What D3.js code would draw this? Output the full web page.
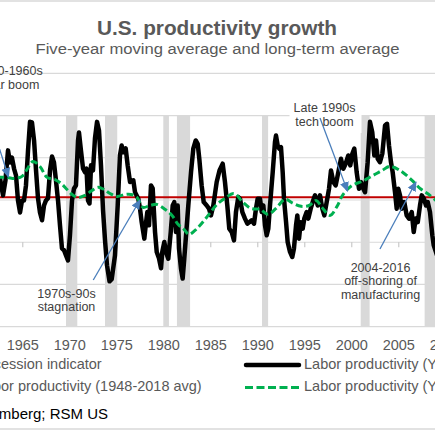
<!DOCTYPE html>
<html><head><meta charset="utf-8">
<script src="https://cdn.jsdelivr.net/npm/d3@7"></script>
<style>
html,body{margin:0;padding:0;background:#fff;}
svg{display:block;overflow:hidden;}
text{font-family:"Liberation Sans",Arial,sans-serif;}
</style></head>
<body>
<svg id="chart" width="435" height="435"></svg>
<script>
// ---------- data ----------
const title = "U.S. productivity growth";
const subtitle = "Five-year moving average and long-term average";
const tickYears = [1960,1965,1970,1975,1980,1985,1990,1995,2000,2005,2010];
const gridValues = [-4,-2,0,2,4,6,8];
const longTermAvg = 2.13;
const recessions = [[1969.65,1970.85],[1973.8,1975.1],[1980.0,1980.6],[1981.45,1982.85],[1990.5,1991.15],[2001.0,2001.95],[2007.8,2009.5]];
const laborYoY = [[1962.63,3.02],[1962.95,2.22],[1963.21,2.93],[1963.48,4.35],[1963.69,3.78],[1963.90,4.01],[1964.12,3.49],[1964.33,3.16],[1964.54,1.98],[1964.76,1.41],[1964.97,1.98],[1965.18,1.98],[1965.39,2.69],[1965.61,4.35],[1965.82,5.7],[1966.03,5.67],[1966.25,4.82],[1966.46,3.40],[1966.67,2.08],[1966.88,1.41],[1967.10,1.04],[1967.31,1.74],[1967.52,1.98],[1967.73,2.08],[1967.95,3.40],[1968.16,4.06],[1968.37,3.78],[1968.58,2.93],[1968.80,1.98],[1969.01,0.80],[1969.22,-0.29],[1969.44,-0.38],[1969.65,-0.62],[1969.86,-0.86],[1970.07,0.33],[1970.29,1.98],[1970.50,2.55],[1970.71,2.69],[1970.93,4.82],[1971.03,5.20],[1971.24,4.35],[1971.46,3.49],[1971.67,3.31],[1971.83,3.49],[1971.99,1.98],[1972.15,1.84],[1972.31,3.64],[1972.52,3.40],[1972.73,4.91],[1972.95,5.7],[1973.16,5.29],[1973.37,3.64],[1973.59,1.51],[1973.80,0.09],[1974.01,-1.09],[1974.28,-1.85],[1974.51,-1.75],[1974.86,-0.62],[1975.15,1.74],[1975.39,4.11],[1975.57,4.58],[1975.74,4.26],[1976.00,4.44],[1976.21,3.64],[1976.46,2.85],[1976.81,2.93],[1976.99,2.37],[1977.34,2.06],[1977.52,1.60],[1977.70,0.95],[1977.98,0.17],[1978.13,0.80],[1978.30,1.43],[1978.48,0.80],[1978.69,2.69],[1978.87,2.55],[1979.12,0.48],[1979.30,-0.46],[1979.54,-0.76],[1979.76,-1.23],[1979.89,-0.46],[1980.11,0.01],[1980.29,-0.46],[1980.53,-0.78],[1980.79,0.48],[1981.00,1.74],[1981.17,1.90],[1981.35,0.48],[1981.53,1.74],[1981.67,-0.30],[1981.88,-1.25],[1982.06,-1.72],[1982.23,-0.78],[1982.42,0.33],[1982.66,1.74],[1982.95,3.32],[1983.19,4.43],[1983.45,4.82],[1983.66,4.66],[1983.83,3.95],[1984.08,2.69],[1984.30,1.90],[1984.62,1.74],[1984.86,1.59],[1985.07,1.27],[1985.32,1.74],[1985.68,2.85],[1985.98,3.40],[1986.32,3.72],[1986.56,2.85],[1986.81,1.74],[1987.02,0.64],[1987.28,0.48],[1987.52,0.09],[1987.73,1.43],[1987.98,2.14],[1988.16,2.06],[1988.41,1.43],[1988.69,1.12],[1988.94,0.88],[1989.15,0.95],[1989.40,1.04],[1989.65,0.88],[1989.86,1.59],[1990.04,2.06],[1990.29,2.06],[1990.47,1.43],[1990.64,1.74],[1990.82,0.80],[1991.00,0.33],[1991.17,0.64],[1991.35,1.74],[1991.64,3.32],[1991.88,4.74],[1991.99,5.05],[1992.17,4.58],[1992.34,4.43],[1992.52,4.50],[1992.70,3.32],[1992.84,2.06],[1993.06,0.95],[1993.23,0.01],[1993.48,-0.46],[1993.72,-0.70],[1993.90,-0.30],[1994.12,0.80],[1994.26,1.27],[1994.44,0.17],[1994.62,0.95],[1994.83,0.64],[1995.00,1.12],[1995.25,1.43],[1995.43,1.12],[1995.68,1.59],[1995.89,1.90],[1996.14,2.22],[1996.43,1.74],[1996.67,2.22],[1996.92,1.59],[1997.13,1.27],[1997.38,1.90],[1997.63,2.53],[1997.84,3.40],[1998.09,2.85],[1998.34,2.69],[1998.62,3.32],[1998.90,3.95],[1999.15,3.48],[1999.40,3.72],[1999.68,4.11],[1999.89,3.64],[2000.11,4.19],[2000.32,4.43],[2000.57,3.32],[2000.82,2.53],[2001.03,2.85],[2001.28,2.53],[2001.46,2.37],[2001.74,3.79],[2001.99,5.7],[2002.23,5.21],[2002.45,4.11],[2002.63,4.82],[2002.81,3.95],[2003.05,3.79],[2003.30,4.19],[2003.59,5.53],[2003.80,5.61],[2004.01,4.58],[2004.22,3.79],[2004.40,3.32],[2004.65,2.37],[2004.83,1.59],[2005.00,2.53],[2005.18,2.22],[2005.36,1.59],[2005.64,1.90],[2005.89,1.27],[2006.14,1.12],[2006.43,1.43],[2006.64,0.48],[2006.85,1.12],[2007.07,0.95],[2007.31,1.74],[2007.49,2.22],[2007.73,2.06],[2007.95,1.74],[2008.13,1.90],[2008.37,1.43],[2008.62,0.33],[2008.77,-0.15],[2009.12,-0.62]];
const labor5yr = [[1962.3,3.07],[1963.37,3.07],[1964.22,3.02],[1964.97,3.12],[1965.50,3.45],[1966.14,3.82],[1966.88,3.59],[1967.63,3.07],[1968.48,2.97],[1969.12,2.79],[1969.76,2.50],[1970.29,2.26],[1970.93,2.12],[1971.67,2.22],[1972.41,2.45],[1973.05,2.60],[1973.69,2.50],[1974.33,2.31],[1975.07,2.17],[1975.93,2.26],[1976.56,2.26],[1977.20,2.12],[1977.84,1.65],[1978.58,1.74],[1979.33,1.79],[1980.18,1.56],[1980.93,1.27],[1981.57,0.85],[1982.20,0.61],[1982.73,0.37],[1983.37,0.56],[1983.91,0.80],[1984.44,1.08],[1985.18,1.51],[1985.71,1.79],[1986.56,2.08],[1987.52,2.31],[1988.48,1.89],[1989.33,1.60],[1990.29,1.56],[1991.14,1.32],[1991.99,1.60],[1992.95,2.03],[1993.80,1.84],[1994.65,1.70],[1995.50,1.74],[1996.25,1.98],[1996.88,1.65],[1997.73,1.27],[1998.48,1.70],[1999.12,2.26],[2000.07,2.69],[2001.14,2.88],[2002.31,3.16],[2003.27,3.40],[2004.12,3.59],[2005.18,3.40],[2006.46,2.93],[2007.31,2.55],[2008.37,2.22],[2009.12,1.93]];
const annotations = [
  {lines:["1970s-90s","stagnation"], year:1969.7, value:-2.62, from:[1972.55,-1.79], to:[1977.52,2.0]},
  {lines:["Late 1990s","tech boom"], year:1997.15, value:6.15, from:[1996.67,5.88], to:[1999.6,2.42], box:true},
  {lines:["2004-2016","off-shoring of","manufacturing"], year:2003.11, value:-1.39, from:[2003.05,-0.32], to:[2006.88,2.85]}
];
const earlyLabel = ["1950-1960s","Postwar boom"];
const earlyArrow = {from:[1961.3,6.2], to:[1963.53,3.09]};
const legendLeft = ["Recession indicator","Labor productivity (1948-2018 avg)"];
const legendRight = ["Labor productivity (Y/Y)","Labor productivity (Y/Y, 5-yr avg)"];
const source = "Source: Bloomberg; RSM US";

// ---------- drawing ----------
const svg = d3.select("#chart");
const W = 435;
const x = d3.scaleLinear().domain([1965,2005]).range([22.3,398.3]);
const y = d3.scaleLinear().domain([-4,8]).range([326.7,73.3]);
const grey = "#595959", gridC = "#d9d9d9", arrowC = "#4a7ebb";

svg.append("line").attr("x1",0).attr("x2",W).attr("y1",1).attr("y2",1).attr("stroke",gridC).attr("stroke-width",1.5);
svg.append("line").attr("x1",0).attr("x2",W).attr("y1",429).attr("y2",429).attr("stroke",gridC).attr("stroke-width",1.5);

svg.append("text").attr("x",217).attr("y",34.5).attr("text-anchor","middle")
  .attr("font-size",19.5).attr("font-weight","bold").attr("fill",grey)
  .attr("textLength",240).attr("lengthAdjust","spacingAndGlyphs").text(title);
svg.append("text").attr("x",217.5).attr("y",54).attr("text-anchor","middle")
  .attr("font-size",15.5).attr("fill",grey)
  .attr("textLength",364).attr("lengthAdjust","spacingAndGlyphs").text(subtitle);

svg.append("g").selectAll("line").data(gridValues).join("line")
  .attr("x1",0).attr("x2",W).attr("y1",d=>y(d)).attr("y2",d=>y(d))
  .attr("stroke",gridC).attr("stroke-width",1.2);

svg.append("g").selectAll("rect").data(recessions).join("rect")
  .attr("x",d=>x(d[0])).attr("width",d=>x(d[1])-x(d[0]))
  .attr("y",y(6)).attr("height",y(-4)-y(6)).attr("fill","#d9d9d9");

svg.append("g").attr("transform",`translate(0,${y(0)})`)
  .call(d3.axisBottom(x).tickValues(tickYears).tickSize(5).tickFormat(""))
  .call(g=>g.select(".domain").remove())
  .call(g=>g.selectAll("line").attr("stroke","#bfbfbf"));

svg.append("g").attr("transform",`translate(0,${y(-4)})`)
  .call(d3.axisBottom(x).tickValues(tickYears).tickSize(0).tickPadding(12.7).tickFormat(d3.format("d")))
  .call(g=>g.select(".domain").remove())
  .call(g=>g.selectAll("text").attr("font-size",14.5).attr("fill",grey).attr("font-family","Liberation Sans, Arial, sans-serif"));

svg.append("line").attr("x1",0).attr("x2",W).attr("y1",y(longTermAvg)).attr("y2",y(longTermAvg))
  .attr("stroke","#c00000").attr("stroke-width",2.2);

const line = d3.line().x(d=>x(d[0])).y(d=>y(d[1]));
svg.append("path").datum(laborYoY).attr("d",line).attr("fill","none")
  .attr("stroke","#000").attr("stroke-width",4.5).attr("stroke-linejoin","round").attr("stroke-linecap","round");

const line2 = d3.line().x(d=>x(d[0])).y(d=>y(d[1])).curve(d3.curveCatmullRom);
svg.append("path").datum(labor5yr).attr("d",line2).attr("fill","none")
  .attr("stroke","#00b050").attr("stroke-width",3).attr("stroke-dasharray","7,3.5");

svg.append("defs").append("marker").attr("id","ah").attr("viewBox","0 0 10 10")
  .attr("refX",9).attr("refY",5).attr("markerWidth",10).attr("markerHeight",10)
  .attr("markerUnits","userSpaceOnUse").attr("orient","auto")
  .append("path").attr("d","M0,0.5 L10,5 L0,9.5 Z").attr("fill",arrowC);

function arrow(a){
  svg.append("line").attr("x1",x(a.from[0])).attr("y1",y(a.from[1]))
    .attr("x2",x(a.to[0])).attr("y2",y(a.to[1]))
    .attr("stroke",arrowC).attr("stroke-width",1.3).attr("marker-end","url(#ah)");
}

const lh = 13.8, annC = "#404040";
annotations.forEach(a=>{
  if(a.box){
    svg.append("rect").attr("x",x(a.year)-35).attr("y",y(a.value)-13)
      .attr("width",72).attr("height",a.lines.length*lh+6).attr("fill","#fff");
  }
});
annotations.forEach(a=>arrow(a));
arrow(earlyArrow);
annotations.forEach(a=>{
  const t = svg.append("text").attr("text-anchor","middle").attr("font-size",12.5).attr("fill",annC);
  a.lines.forEach((l,i)=>t.append("tspan").attr("x",x(a.year)).attr("y",y(a.value)+i*lh).text(l));
});
svg.append("text").attr("x",42.7).attr("y",75).attr("text-anchor","end").attr("font-size",12.5).attr("fill",annC).text(earlyLabel[0]);
svg.append("text").attr("x",39.3).attr("y",89.3).attr("text-anchor","end").attr("font-size",12.5).attr("fill",annC).text(earlyLabel[1]);

svg.append("text").attr("x",101.7).attr("y",369).attr("text-anchor","end").attr("font-size",14.5).attr("fill",grey).text(legendLeft[0]);
svg.append("text").attr("x",201.7).attr("y",391).attr("text-anchor","end").attr("font-size",14.5).attr("fill",grey).text(legendLeft[1]);
svg.append("line").attr("x1",246).attr("x2",299).attr("y1",365).attr("y2",365)
  .attr("stroke","#000").attr("stroke-width",4.5).attr("stroke-linecap","round");
svg.append("line").attr("x1",245).attr("x2",300).attr("y1",387.5).attr("y2",387.5)
  .attr("stroke","#00b050").attr("stroke-width",3).attr("stroke-dasharray","8,3.5");
svg.append("text").attr("x",304).attr("y",369).attr("font-size",14.5).attr("fill",grey).text(legendRight[0]);
svg.append("text").attr("x",304).attr("y",391).attr("font-size",14.5).attr("fill",grey).text(legendRight[1]);

svg.append("text").attr("x",108).attr("y",419.3).attr("text-anchor","end").attr("font-size",15)
  .attr("font-family","Lato, 'Open Sans', sans-serif").attr("fill","#000").text(source);
</script>
</body></html>
